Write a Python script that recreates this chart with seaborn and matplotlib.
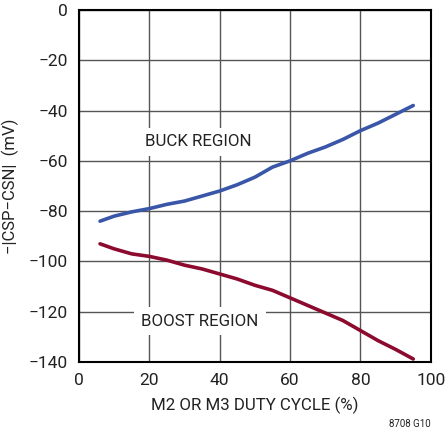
import seaborn as sns
import pandas as pd
import matplotlib.pyplot as plt

duty = [6, 10, 15, 20, 25, 30, 35, 40, 45, 50, 55, 60, 65, 70, 75, 80, 85, 90, 95]
buck = [-84, -82, -80.3, -79, -77.3, -76, -74, -72, -69.5, -66.5, -62.5, -60,
        -57, -54.5, -51.5, -48, -45, -41.5, -38]
boost = [-93, -95, -97, -98, -99.5, -101.5, -103, -105, -107, -109.5, -111.5,
         -114.5, -117.5, -120.5, -123.5, -127.5, -131.5, -135, -138.8]
xticks = [0, 20, 40, 60, 80, 100]
yticks = [0, -20, -40, -60, -80, -100, -120, -140]

df = pd.DataFrame({'duty': duty, 'buck': buck, 'boost': boost})

sns.set_style('white')
plt.rcParams['font.family'] = ['Roboto', 'DejaVu Sans']

fig = plt.figure(figsize=(4.46, 4.33), dpi=100)
ax = fig.add_axes([0.177, 0.164, 0.789, 0.813])

sns.lineplot(data=df, x='duty', y='buck', color='#3a56a8', lw=2.6, ax=ax)
sns.lineplot(data=df, x='duty', y='boost', color='#8b0a2e', lw=2.6, ax=ax)

ax.set_xlim(0, 100)
ax.set_ylim(-140, 0)
ax.set_xticks(xticks)
ax.set_yticks(yticks)
ax.set_yticklabels([str(t).replace('-', '\u2212') for t in yticks])
ax.grid(True, color='#555555', lw=1)
ax.set_axisbelow(True)
for s in ax.spines.values():
    s.set_color('black')
    s.set_linewidth(1.5)
ax.tick_params(length=0, labelsize=12.5, pad=8, colors='#222222')

ax.set_xlabel('M2 OR M3 DUTY CYCLE (%)', fontsize=12.2, color='#222222', labelpad=6)
ax.set_ylabel('\u2212|CSP\u2212CSN|  (mV)', fontsize=12, color='#222222', labelpad=7)

ax.text(34, -52.5, 'BUCK REGION', ha='center', va='center', fontsize=12.2,
        color='#222222', bbox=dict(facecolor='white', edgecolor='none', pad=5))
ax.text(34.4, -123.7, 'BOOST REGION', ha='center', va='center', fontsize=12.2,
        color='#222222', bbox=dict(facecolor='white', edgecolor='none', pad=5))

fig.text(0.966, 0.01, '8708 G10', ha='right', va='bottom', fontsize=7, color='#222222')

fig.savefig('out.png', dpi=100)
